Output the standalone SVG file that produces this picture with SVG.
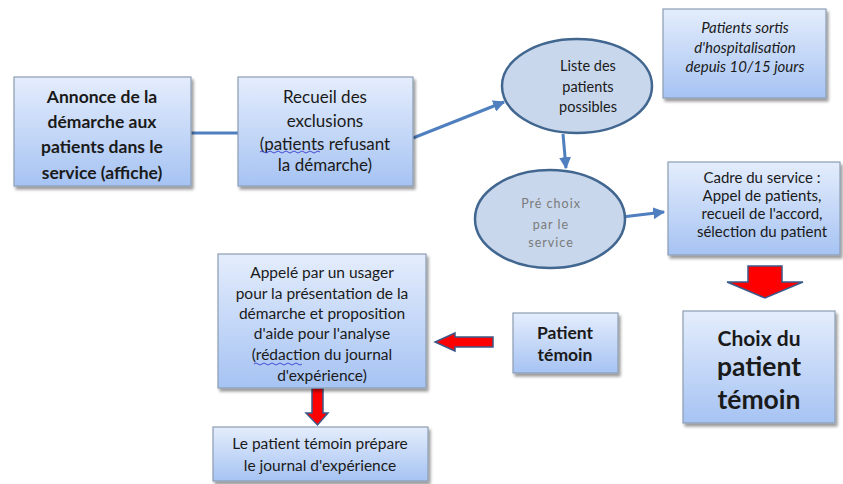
<svg xmlns="http://www.w3.org/2000/svg" width="843" height="484" viewBox="0 0 843 484">
<defs>
<linearGradient id="g" x1="0" y1="0" x2="0" y2="1">
<stop offset="0" stop-color="#e4edfc"/>
<stop offset="1" stop-color="#a6c3f3"/>
</linearGradient>
<filter id="sh" x="-10%" y="-10%" width="125%" height="130%">
<feGaussianBlur in="SourceAlpha" stdDeviation="1.5"/>
<feOffset dx="2" dy="3" result="b"/>
<feComponentTransfer><feFuncA type="linear" slope="0.4"/></feComponentTransfer>
<feMerge><feMergeNode/><feMergeNode in="SourceGraphic"/></feMerge>
</filter>
<marker id="ah" viewBox="0 0 10 10" refX="9" refY="5" markerWidth="4" markerHeight="4" orient="auto">
<path d="M0,0 L10,5 L0,10 z" fill="#4f7fbf"/>
</marker>
</defs>
<style>
.box{fill:url(#g);stroke:#8d9db3;stroke-width:1.2;filter:url(#sh)}
.ell{fill:#c8d7ec;stroke:#41668f;stroke-width:2.5}
.t{font-family:Lato,"Open Sans","Liberation Sans",sans-serif;fill:#1a1a1a;text-anchor:middle;dominant-baseline:central}
.b{font-weight:bold}
.gr{fill:#7a7a7a}
.line{stroke:#4f7fbf;stroke-width:3;fill:none}
.red{fill:#ff0000;stroke:#3b5a8a;stroke-width:1.5}
.sq{fill:none;stroke:#3b3bd0;stroke-width:0.9}
</style>
<rect width="843" height="484" fill="#ffffff"/>
<g id="connectors">
<line class="line" x1="191" y1="133" x2="238" y2="133"/>
<line class="line" x1="413" y1="138" x2="504" y2="102" marker-end="url(#ah)"/>
<line class="line" x1="563" y1="134" x2="566" y2="168" marker-end="url(#ah)"/>
<line class="line" x1="622" y1="217" x2="664" y2="212" marker-end="url(#ah)"/>
<path class="red" d="M748,266 L782,266 L782,282 L803,282 L765,298 L727,282 L748,282 Z"/>
<path class="red" d="M493,337 L455,337 L455,333 L435,342 L455,351 L455,347 L493,347 Z"/>
<path class="red" d="M312,388 L323,388 L323,413 L328,413 L317.5,425 L306,413 L312,413 Z"/>
</g>
<g id="annonce">
<rect class="box" x="14" y="77" width="177" height="109"/>
<text class="t b" font-size="17.5" x="102" y="96">Annonce de la</text>
<text class="t b" font-size="17.5" x="102" y="121">démarche aux</text>
<text class="t b" font-size="17.5" x="102" y="146">patients dans le</text>
<text class="t b" font-size="17.5" x="102" y="172">service (affiche)</text>
</g>
<g id="recueil">
<rect class="box" x="238" y="77" width="175" height="109"/>
<text class="t" font-size="17" x="325" y="96">Recueil des</text>
<text class="t" font-size="17" x="325" y="120">exclusions</text>
<text class="t" font-size="17" x="325" y="143">(patients refusant</text>
<text class="t" font-size="17" x="325" y="164">la démarche)</text>
<path class="sq" d="M260,152 q2,-2 4,0 t4,0 t4,0 t4,0 t4,0 t4,0 t4,0 t4,0 t4,0 t4,0 t4,0 t4,0 t4,0 t4,0 t4,0"/>
</g>
<g id="liste">
<ellipse class="ell" cx="577" cy="86" rx="75" ry="47"/>
<text class="t" font-size="14.5" x="588" y="65">Liste des</text>
<text class="t" font-size="14.5" x="588" y="86">patients</text>
<text class="t" font-size="14.5" x="588" y="106">possibles</text>
</g>
<g id="sortis">
<rect class="box" x="663" y="9" width="163" height="89"/>
<text class="t" font-size="15" font-style="italic" x="745" y="27">Patients  sortis</text>
<text class="t" font-size="15" font-style="italic" x="745" y="47">d'hospitalisation</text>
<text class="t" font-size="15" font-style="italic" x="745" y="66">depuis 10/15  jours</text>
</g>
<g id="prechoix">
<ellipse class="ell" cx="550" cy="219" rx="75" ry="49"/>
<text class="t gr" font-size="12.5" letter-spacing="1" x="551" y="203">Pré choix</text>
<text class="t gr" font-size="12.5" letter-spacing="1" x="551" y="224">par le</text>
<text class="t gr" font-size="12.5" letter-spacing="1" x="551" y="242">service</text>
</g>
<g id="cadre">
<rect class="box" x="668" y="162" width="172" height="93"/>
<text class="t" font-size="15" x="762" y="177">Cadre du service :</text>
<text class="t" font-size="15" x="762" y="195">Appel  de patients,</text>
<text class="t" font-size="15" x="762" y="213">recueil  de l'accord,</text>
<text class="t" font-size="15" x="762" y="231">sélection  du patient</text>
</g>
<g id="choix">
<rect class="box" x="683" y="311" width="152" height="112"/>
<text class="t b" font-size="21" x="759" y="337">Choix du</text>
<text class="t b" font-size="26.5" x="759" y="366">patient</text>
<text class="t b" font-size="26.5" x="759" y="399">témoin</text>
</g>
<g id="patient-temoin">
<rect class="box" x="513" y="313" width="105" height="60"/>
<text class="t b" font-size="17.5" x="565" y="332">Patient</text>
<text class="t b" font-size="17.5" x="565" y="354">témoin</text>
</g>
<g id="appele">
<rect class="box" x="218" y="254" width="208" height="134"/>
<text class="t" font-size="15.5" x="322" y="272">Appelé  par un usager</text>
<text class="t" font-size="15.5" x="322" y="293">pour la présentation  de la</text>
<text class="t" font-size="15.5" x="322" y="313">démarche et proposition</text>
<text class="t" font-size="15.5" x="322" y="333">d'aide  pour l'analyse</text>
<text class="t" font-size="15.5" x="322" y="354">(rédaction  du journal</text>
<text class="t" font-size="15.5" x="322" y="375">d'expérience)</text>
<path class="sq" d="M254,364 q2,-2 4,0 t4,0 t4,0 t4,0 t4,0 t4,0 t4,0 t4,0 t4,0 t4,0 t4,0 t4,0"/>
</g>
<g id="prepare">
<rect class="box" x="213" y="427" width="215" height="54"/>
<text class="t" font-size="15.5" x="320" y="443">Le patient témoin prépare</text>
<text class="t" font-size="15.5" x="320" y="465">le journal d'expérience</text>
</g>
</svg>
